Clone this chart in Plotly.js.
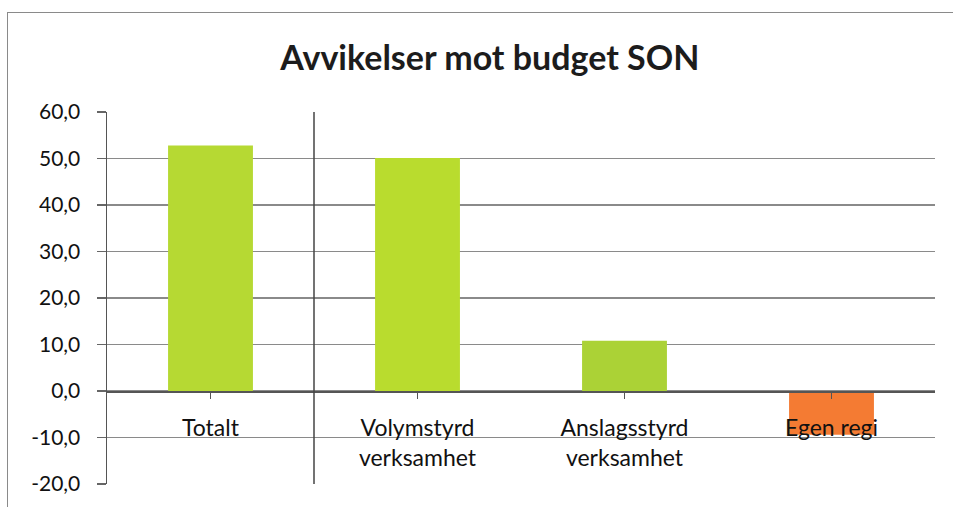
<!DOCTYPE html>
<html>
<head>
<meta charset="utf-8">
<script src="https://cdn.plot.ly/plotly-3.0.1.min.js"></script>
<style>
html,body{margin:0;padding:0;background:#fff;overflow:hidden;}
#frame{position:absolute;left:7px;top:12px;width:1000px;height:600px;border:1.5px solid #8a8a8a;box-sizing:border-box;pointer-events:none;z-index:5;}
#chart{position:absolute;left:0;top:0;width:953px;height:507px;}
</style>
</head>
<body>
<div id="chart"></div>
<div id="frame"></div>
<script>
const categories = ["Totalt", "Volymstyrd<br>verksamhet", "Anslagsstyrd<br>verksamhet", "Egen regi"];
const values = [52.8, 50.1, 10.8, -9.4];
const barColors = ["#b6d933", "#b9dc2e", "#abd236", "#f47b33"];
const yTicks = [-20, -10, 0, 10, 20, 30, 40, 50, 60];
const yTickLabels = ["-20,0", "-10,0", "0,0", "10,0", "20,0", "30,0", "40,0", "50,0", "60,0"];

const font = "Lato, 'Open Sans', 'DejaVu Sans', sans-serif";

const trace = {
  type: "bar",
  x: [0, 1, 2, 3],
  y: values,
  marker: {color: barColors, line: {width: 0}},
  hoverinfo: "y"
};

const layout = {
  width: 953,
  height: 507,
  margin: {l: 107, r: 18, t: 112, b: 23, pad: 0},
  paper_bgcolor: "#ffffff",
  plot_bgcolor: "#ffffff",
  showlegend: false,
  bargap: 0.59,
  font: {family: font, color: "#111"},
  title: {
    text: "<b>Avvikelser mot budget SON</b>",
    font: {family: font, size: 34, color: "#1c1c1c"},
    x: 0.514, xanchor: "center",
    y: 0.885, yanchor: "middle"
  },
  xaxis: {
    range: [-0.5, 3.5],
    tickmode: "array",
    tickvals: [0, 1, 2, 3],
    ticktext: categories,
    tickson: "boundaries",
    ticks: "outside",
    ticklen: 6,
    tickcolor: "#555",
    tickwidth: 1.5,
    showline: true,
    linecolor: "#555",
    linewidth: 1.5,
    showgrid: false,
    zeroline: false,
    anchor: "free",
    position: 0.25,
    ticklabelstandoff: 10,
    tickfont: {family: font, size: 23, color: "#111"},
    fixedrange: true
  },
  yaxis: {
    range: [-20, 60],
    tickmode: "array",
    tickvals: yTicks,
    ticktext: yTickLabels,
    ticks: "outside",
    ticklen: 9,
    tickcolor: "#666",
    tickwidth: 1.5,
    showline: true,
    linecolor: "#555",
    linewidth: 1.5,
    showgrid: true,
    gridcolor: "#8a8a8a",
    gridwidth: 1.5,
    zeroline: false,
    ticklabelstandoff: 12,
    tickfont: {family: font, size: 21, color: "#111"},
    fixedrange: true
  },
  shapes: [
    {type: "line", xref: "x", yref: "paper", x0: 0.5, x1: 0.5, y0: 0, y1: 1,
     line: {color: "#444", width: 1.5}}
  ]
};

Plotly.newPlot("chart", [trace], layout, {displayModeBar: false, staticPlot: true});
</script>
</body>
</html>
